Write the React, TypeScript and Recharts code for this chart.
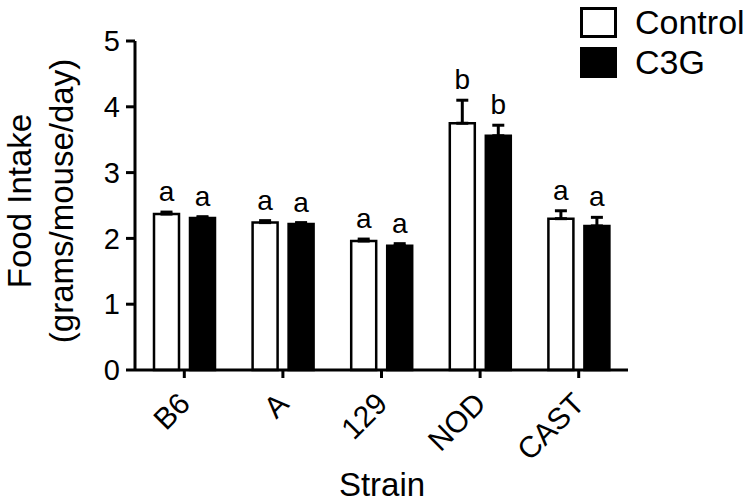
import { BarChart, Bar, XAxis, YAxis, ErrorBar, LabelList, Legend } from 'recharts'

const FONT = '"Liberation Sans", Arial, Helvetica, sans-serif'

const strains = ['B6', 'A', '129', 'NOD', 'CAST']
const controlMeans = [2.37, 2.24, 1.96, 3.75, 2.3]
const controlSem = [0.03, 0.03, 0.03, 0.35, 0.12]
const c3gMeans = [2.31, 2.22, 1.89, 3.56, 2.19]
const c3gSem = [0.02, 0.02, 0.03, 0.16, 0.13]
const controlLetters = ['a', 'a', 'a', 'b', 'a']
const c3gLetters = ['a', 'a', 'a', 'b', 'a']
const seriesNames = ['Control', 'C3G']
const yTicks = [0, 1, 2, 3, 4, 5]

const data = strains.map((strain, i) => ({
  strain,
  control: controlMeans[i],
  controlErr: [0, controlSem[i]],
  controlLetter: controlLetters[i],
  c3g: c3gMeans[i],
  c3gErr: [0, c3gSem[i]],
  c3gLetter: c3gLetters[i],
}))

// letter sits just above the top of the error bar
const letterLabel = (means: number[], sems: number[]) => (props: any) => {
  const vb = props.viewBox ?? props
  const { x, y, width, height } = vb
  const i = props.index
  const pxPerUnit = height / means[i]
  const top = y - sems[i] * pxPerUnit
  return (
    <text x={x + width / 2} y={top - 11} textAnchor="middle" fontSize={28} fontFamily={FONT} fill="#000">
      {props.value}
    </text>
  )
}

function StrainTick({ x, y, payload }: any) {
  return (
    <g transform={`translate(${x},${y + 18})`}>
      <text x={0} y={0} dy="0.355em" textAnchor="end" transform="rotate(-45)" fontSize={30} fontFamily={FONT} fill="#000">
        {payload.value}
      </text>
    </g>
  )
}

const renderLegend = (props: any) => {
  const items = [...(props.payload ?? [])].sort(
    (a: any, b: any) => seriesNames.indexOf(a.value) - seriesNames.indexOf(b.value)
  )
  return (
    <div style={{ fontFamily: FONT }}>
      {items.map((p: any) => (
        <div key={p.value} style={{ display: 'flex', alignItems: 'center', height: 40 }}>
          <span
            style={{
              display: 'inline-block',
              width: 31,
              height: 25,
              border: '3px solid #000',
              background: p.payload?.fill ?? p.color,
              marginRight: 18,
            }}
          />
          <span style={{ fontSize: 34, color: '#000', lineHeight: '40px' }}>{p.value}</span>
        </div>
      ))}
    </div>
  )
}

export default function App() {
  return (
    <div style={{ position: 'absolute', left: 0, top: 0, width: 750, height: 504, background: '#fff' }}>
      <BarChart
        width={750}
        height={504}
        data={data}
        margin={{ top: 41, right: 122, bottom: 0, left: 0 }}
        barGap={11}
      >
        <XAxis
          dataKey="strain"
          height={134}
          interval={0}
          tickSize={8}
          axisLine={{ stroke: '#000', strokeWidth: 3 }}
          tickLine={{ stroke: '#000', strokeWidth: 3 }}
          tick={<StrainTick />}
          label={{
            content: () => (
              <text x={382} y={496} textAnchor="middle" fontSize={33} fontFamily={FONT} fill="#000">
                Strain
              </text>
            ),
          }}
        />
        <YAxis
          domain={[0, 5]}
          ticks={yTicks}
          width={135}
          tickSize={9}
          tickMargin={6}
          interval={0}
          axisLine={{ stroke: '#000', strokeWidth: 3 }}
          tickLine={{ stroke: '#000', strokeWidth: 3 }}
          tick={{ fontSize: 29, fill: '#000', fontFamily: FONT }}
          label={{
            content: () => (
              <text transform="rotate(-90)" textAnchor="middle" fontSize={33} fontFamily={FONT} fill="#000">
                <tspan x={-201} y={31}>Food Intake</tspan>
                <tspan x={-201} y={73}>(grams/mouse/day)</tspan>
              </text>
            ),
          }}
        />
        <Legend
          layout="vertical"
          align="center"
          verticalAlign="middle"
          content={renderLegend}
          wrapperStyle={{ position: 'absolute', left: 580, top: 2, right: 'auto', bottom: 'auto', width: 'auto' }}
        />
        <Bar dataKey="control" name="Control" fill="#fff" stroke="#000" strokeWidth={2.5} barSize={25} isAnimationActive={false}>
          <ErrorBar dataKey="controlErr" direction="y" width={6} stroke="#000" strokeWidth={3} />
          <LabelList dataKey="controlLetter" content={letterLabel(controlMeans, controlSem)} />
        </Bar>
        <Bar dataKey="c3g" name="C3G" fill="#000" stroke="#000" strokeWidth={2.5} barSize={25} isAnimationActive={false}>
          <ErrorBar dataKey="c3gErr" direction="y" width={6} stroke="#000" strokeWidth={3} />
          <LabelList dataKey="c3gLetter" content={letterLabel(c3gMeans, c3gSem)} />
        </Bar>
      </BarChart>
    </div>
  )
}
